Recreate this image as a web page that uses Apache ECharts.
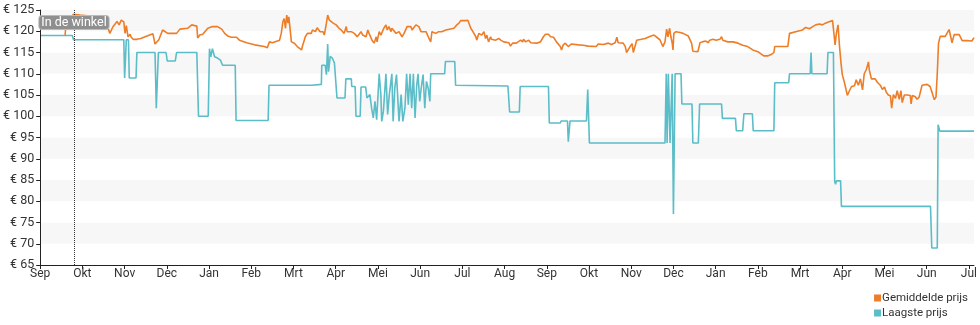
<!DOCTYPE html>
<html>
<head>
<meta charset="utf-8">
<title>Prijsverloop</title>
<script src="https://cdn.jsdelivr.net/npm/echarts@6/dist/echarts.min.js"></script>
<style>
  html, body { margin: 0; padding: 0; background: #fff; }
  #chart { width: 980px; height: 325px; }
</style>
</head>
<body>
<div id="chart"></div>
<script>
// Month labels along the x axis (position 0 = first September)
const monthLabels = ['Sep', 'Okt', 'Nov', 'Dec', 'Jan', 'Feb', 'Mrt', 'Apr', 'Mei', 'Jun', 'Jul',
                     'Aug', 'Sep', 'Okt', 'Nov', 'Dec', 'Jan', 'Feb', 'Mrt', 'Apr', 'Mei', 'Jun', 'Jul'];

// Price ticks in euro
const priceTicks = [65, 70, 75, 80, 85, 90, 95, 100, 105, 110, 115, 120, 125];

// Moment the product became available in shops (in months from the first September)
const inStoreMonth = 0.80;

// Average price: time (months) and price (euro)
const avgMonths = [
  0.59, 0.61, 0.71, 0.76, 0.78, 0.94, 1.18, 1.42, 1.53, 1.58, 1.65, 1.72, 1.82, 1.87, 1.92, 1.98,
  2.01, 2.04, 2.08, 2.13, 2.15, 2.20, 2.29, 2.38, 2.67, 2.72, 2.76, 2.81, 2.90, 3.02, 3.23, 3.31,
  3.49, 3.59, 3.71, 3.73, 3.78, 3.85, 3.97, 4.08, 4.20, 4.30, 4.37, 4.44, 4.53, 4.65, 4.72, 4.89,
  5.08, 5.31, 5.38, 5.43, 5.50, 5.67, 5.71, 5.75, 5.78, 5.81, 5.84, 5.87, 5.89, 5.93, 5.95, 6.02,
  6.09, 6.19, 6.21, 6.28, 6.33, 6.42, 6.45, 6.52, 6.56, 6.63, 6.70, 6.73, 6.78, 6.81, 6.85, 6.89,
  6.94, 7.01, 7.08, 7.13, 7.20, 7.25, 7.27, 7.37, 7.44, 7.51, 7.55, 7.60, 7.64, 7.67, 7.72, 7.76,
  7.79, 7.86, 7.91, 7.96, 7.98, 8.03, 8.07, 8.14, 8.19, 8.22, 8.26, 8.31, 8.33, 8.43, 8.50, 8.57,
  8.62, 8.69, 8.78, 8.81, 8.90, 8.97, 9.02, 9.14, 9.21, 9.25, 9.28, 9.37, 9.44, 9.51, 9.61, 9.80,
  9.87, 9.92, 9.96, 10.08, 10.13, 10.20, 10.25, 10.32, 10.34, 10.39, 10.46, 10.51, 10.55, 10.58, 10.62, 10.67,
  10.69, 10.79, 10.86, 10.91, 10.98, 11.10, 11.14, 11.19, 11.28, 11.38, 11.43, 11.45, 11.50, 11.57, 11.62, 11.76,
  11.85, 11.92, 11.97, 12.04, 12.09, 12.16, 12.23, 12.32, 12.35, 12.39, 12.44, 12.51, 12.58, 12.75, 12.87, 12.98,
  13.17, 13.22, 13.34, 13.46, 13.53, 13.57, 13.62, 13.66, 13.69, 13.81, 13.86, 13.89, 13.93, 13.98, 14.02, 14.05,
  14.09, 14.13, 14.16, 14.24, 14.33, 14.40, 14.47, 14.54, 14.68, 14.75, 14.80, 14.84, 14.87, 14.91, 14.94, 14.97,
  14.99, 15.01, 15.06, 15.16, 15.23, 15.35, 15.39, 15.43, 15.46, 15.58, 15.63, 15.68, 15.77, 15.82, 15.86, 15.94,
  16.01, 16.05, 16.10, 16.14, 16.17, 16.29, 16.41, 16.53, 16.64, 16.76, 16.88, 17.00, 17.14, 17.23, 17.33, 17.38,
  17.40, 17.71, 17.75, 17.94, 18.06, 18.13, 18.22, 18.30, 18.37, 18.41, 18.46, 18.53, 18.60, 18.67, 18.77, 18.80,
  18.83, 18.86, 18.90, 18.93, 18.97, 19.00, 19.05, 19.12, 19.17, 19.22, 19.29, 19.33, 19.38, 19.43, 19.48, 19.52,
  19.57, 19.62, 19.64, 19.69, 19.78, 19.83, 19.90, 19.95, 20.00, 20.04, 20.09, 20.14, 20.17, 20.21, 20.26, 20.30,
  20.35, 20.39, 20.42, 20.47, 20.54, 20.61, 20.63, 20.66, 20.73, 20.77, 20.82, 20.89, 21.01, 21.08, 21.13, 21.18,
  21.22, 21.25, 21.28, 21.32, 21.44, 21.48, 21.53, 21.55, 21.60, 21.65, 21.77, 21.84, 21.96, 22.07, 22.12
];
const avgPrices = [
  119.0, 121.9, 122.0, 121.5, 124.0, 123.8, 123.6, 123.5, 123.3, 121.5, 119.5, 121.0, 122.3, 121.5, 122.6, 122.2,
  119.5, 121.3, 118.7, 119.3, 118.7, 118.1, 118.1, 118.3, 119.4, 117.0, 116.8, 118.0, 120.3, 119.5, 119.5, 120.5,
  120.7, 121.5, 121.2, 118.4, 119.1, 119.3, 120.7, 121.1, 121.1, 120.5, 119.5, 118.9, 118.6, 118.6, 117.9, 117.3,
  116.8, 116.4, 116.1, 117.5, 117.3, 117.9, 119.5, 122.3, 123.0, 120.7, 123.8, 121.9, 123.4, 119.5, 117.5, 117.2,
  116.4, 115.6, 116.4, 118.7, 119.5, 119.5, 120.3, 119.9, 120.8, 119.9, 119.9, 119.1, 121.9, 123.8, 122.6, 122.3,
  121.9, 121.5, 120.7, 120.3, 119.5, 121.1, 119.9, 119.9, 119.5, 118.7, 119.1, 119.9, 119.1, 119.5, 118.7, 120.3,
  119.5, 117.9, 117.2, 118.7, 117.5, 119.9, 119.1, 120.7, 121.5, 120.3, 121.1, 119.9, 120.7, 119.5, 119.9, 118.7,
  119.5, 121.1, 121.1, 120.3, 121.5, 121.1, 119.9, 119.9, 118.3, 117.5, 119.9, 119.5, 119.9, 119.9, 120.3, 120.7,
  121.5, 121.9, 122.5, 122.5, 122.6, 120.7, 119.9, 118.7, 117.9, 119.5, 119.1, 119.9, 118.3, 119.1, 117.5, 118.7,
  118.1, 117.9, 118.3, 117.9, 117.5, 117.3, 116.5, 117.2, 117.2, 117.9, 117.5, 118.1, 117.5, 117.9, 117.3, 117.2,
  117.5, 118.7, 119.3, 119.3, 118.7, 118.6, 117.5, 116.4, 115.6, 116.8, 117.2, 116.4, 117.0, 116.8, 116.7, 116.5,
  116.4, 117.0, 116.9, 117.2, 116.9, 117.2, 117.3, 118.6, 117.3, 117.2, 116.4, 115.0, 115.2, 116.5, 117.1, 115.0,
  114.9, 117.9, 118.1, 118.1, 118.3, 118.6, 118.9, 119.1, 118.0, 116.4, 117.5, 120.5, 118.7, 120.7, 118.7, 117.3,
  115.6, 119.5, 119.9, 119.7, 119.5, 118.9, 118.7, 117.2, 115.3, 115.2, 117.3, 117.5, 117.7, 117.3, 117.9, 118.1,
  117.9, 118.3, 118.1, 118.7, 117.9, 117.5, 117.5, 117.2, 116.7, 116.4, 115.6, 115.2, 114.2, 114.2, 114.6, 115.0,
  116.4, 116.4, 119.5, 120.0, 120.3, 120.9, 120.6, 121.1, 121.5, 121.3, 121.7, 121.5, 121.9, 122.2, 122.5, 122.6,
  116.8, 119.5, 121.5, 117.0, 112.5, 109.8, 108.0, 104.9, 106.0, 107.0, 107.2, 108.6, 107.3, 108.8, 106.2, 110.0,
  111.0, 112.8, 110.9, 108.8, 108.8, 108.0, 107.3, 106.3, 106.9, 105.7, 105.0, 104.8, 101.9, 105.1, 104.2, 106.0,
  104.0, 106.0, 103.2, 105.0, 105.0, 104.9, 102.9, 104.9, 104.6, 104.0, 104.5, 107.3, 107.5, 107.0, 105.5, 103.9,
  104.5, 110.0, 117.2, 118.8, 118.8, 119.0, 120.4, 120.0, 117.3, 119.2, 119.2, 117.8, 117.8, 117.7, 118.5
];

// Lowest price: time (months) and price (euro)
const lowMonths = [
  0.02, 0.76, 0.79, 1.98, 2.00, 2.02, 2.04, 2.09, 2.11, 2.27, 2.29, 2.72, 2.75, 2.78, 2.80, 2.98,
  3.01, 3.20, 3.23, 3.71, 3.75, 3.98, 4.01, 4.04, 4.08, 4.13, 4.20, 4.27, 4.32, 4.62, 4.64, 5.40,
  5.42, 6.44, 6.46, 6.66, 6.67, 6.75, 6.78, 6.81, 6.83, 6.87, 6.92, 6.97, 7.03, 7.22, 7.24, 7.37,
  7.38, 7.46, 7.48, 7.58, 7.60, 7.71, 7.74, 7.81, 7.85, 7.89, 7.93, 7.97, 8.03, 8.07, 8.09, 8.13,
  8.19, 8.23, 8.27, 8.33, 8.36, 8.40, 8.44, 8.50, 8.55, 8.59, 8.64, 8.68, 8.72, 8.76, 8.80, 8.84,
  8.88, 8.92, 8.95, 8.99, 9.03, 9.07, 9.11, 9.15, 9.19, 9.23, 9.25, 9.58, 9.60, 9.82, 9.84, 11.08,
  11.12, 11.35, 11.37, 12.04, 12.06, 12.32, 12.34, 12.49, 12.51, 12.55, 12.94, 12.97, 13.01, 14.80,
  14.83, 14.85, 14.88, 14.92, 14.97, 15.00, 15.04, 15.18, 15.20, 15.44, 15.46, 15.59, 15.62, 16.14,
  16.16, 16.47, 16.49, 16.64, 16.67, 16.87, 16.89, 17.38, 17.40, 17.73, 17.75, 18.24, 18.26, 18.28,
  18.64, 18.66, 18.79, 18.82, 18.84, 18.86, 18.96, 18.98, 21.09, 21.12, 21.25, 21.27, 21.31, 22.12
];
const lowPrices = [
  119.0, 119.0, 118.0, 118.0, 109.0, 109.0, 118.0, 118.0, 109.0, 109.0, 115.0, 115.0, 101.9, 101.9, 115.0, 115.0,
  113.0, 113.0, 115.0, 115.0, 100.0, 100.0, 115.9, 114.0, 115.9, 114.0, 113.7, 113.2, 112.0, 112.0, 99.0, 99.0,
  107.3, 107.3, 107.5, 107.5, 112.0, 112.0, 109.8, 117.0, 110.5, 114.1, 113.7, 112.5, 104.3, 104.3, 108.8, 108.8,
  107.0, 107.0, 100.0, 100.0, 106.9, 106.9, 104.3, 105.1, 101.9, 99.6, 103.5, 99.2, 110.0, 105.1, 98.8, 101.2,
  110.0, 100.4, 105.1, 110.0, 98.8, 106.6, 109.8, 98.8, 105.1, 98.8, 101.9, 110.0, 102.7, 110.0, 101.9, 110.0,
  99.6, 107.4, 110.0, 103.5, 107.0, 109.8, 101.9, 108.2, 106.6, 103.5, 110.0, 110.0, 112.9, 112.9, 107.3, 107.1,
  101.0, 101.0, 107.0, 107.0, 98.4, 98.4, 98.9, 98.9, 94.0, 98.9, 98.9, 106.3, 93.7, 93.7,
  110.0, 93.7, 110.0, 93.7, 110.0, 77.0, 110.0, 110.0, 102.9, 102.9, 93.7, 93.7, 102.9, 102.9,
  99.5, 99.5, 96.6, 96.6, 100.6, 100.6, 96.6, 96.6, 107.9, 107.9, 110.0, 110.0, 115.0, 110.0,
  110.0, 115.0, 115.0, 84.7, 84.0, 84.8, 84.8, 78.8, 78.8, 69.0, 69.0, 98.0, 96.5, 96.5
];

const zip = (xs, ys) => xs.map((x, i) => [x, ys[i]]);
const monthTicks = monthLabels.map((_, i) => i);

const chart = echarts.init(document.getElementById('chart'), null, { renderer: 'canvas' });

const textColor = '#333';
const fontFamily = 'Roboto, "Noto Sans", sans-serif';

chart.setOption({
  animation: false,
  backgroundColor: '#ffffff',
  textStyle: { fontFamily: fontFamily },
  grid: { left: 40, right: 3, top: 10, bottom: 60, containLabel: false },
  legend: {
    orient: 'vertical',
    right: 12,
    top: 292,
    align: 'left',
    padding: 0,
    itemGap: 3,
    itemWidth: 7,
    itemHeight: 7,
    icon: 'rect',
    textStyle: { color: textColor, fontSize: 11.5, fontFamily: fontFamily, padding: [0, 0, 0, -4] },
    data: ['Gemiddelde prijs', 'Laagste prijs']
  },
  xAxis: {
    type: 'value',
    min: 0,
    max: 22.12,
    interval: 1,
    axisLine: { show: true, lineStyle: { color: '#222', width: 1 } },
    axisTick: { show: true, length: 4, customValues: monthTicks, lineStyle: { color: '#222' } },
    axisLabel: {
      customValues: monthTicks,
      color: textColor,
      fontSize: 12,
      margin: 3,
      formatter: (v) => monthLabels[Math.round(v)] || ''
    },
    splitLine: { show: false }
  },
  yAxis: {
    type: 'value',
    min: priceTicks[0],
    max: priceTicks[priceTicks.length - 1],
    interval: 5,
    axisLine: { show: true, lineStyle: { color: '#222', width: 1 } },
    axisTick: { show: true, length: 4, lineStyle: { color: '#222' } },
    axisLabel: {
      color: textColor,
      fontSize: 12.5,
      margin: 6,
      formatter: (v) => '€ ' + v
    },
    splitLine: { show: false },
    splitArea: { show: true, areaStyle: { color: ['#ffffff', '#f7f7f7'] } }
  },
  series: [
    {
      name: 'Gemiddelde prijs',
      type: 'line',
      data: zip(avgMonths, avgPrices),
      showSymbol: false,
      symbol: 'none',
      color: '#ee7d28',
      lineStyle: { width: 1.6, color: '#ee7d28' },
      z: 3
    },
    {
      name: 'Laagste prijs',
      type: 'line',
      data: zip(lowMonths, lowPrices),
      showSymbol: false,
      symbol: 'none',
      color: '#5bbdc7',
      lineStyle: { width: 1.6, color: '#5bbdc7' },
      z: 2,
      markLine: {
        silent: true,
        symbol: ['none', 'none'],
        lineStyle: { color: '#333', type: 'dotted', width: 1 },
        label: {
          show: true,
          position: 'end',
          formatter: 'In de winkel',
          color: '#fff',
          fontSize: 12.5,
          backgroundColor: '#8f8f8f',
          borderColor: '#bbbbbb',
          borderWidth: 1,
          borderRadius: 3,
          padding: [0, 2, 0, 2],
          offset: [0, 24]
        },
        data: [{ xAxis: inStoreMonth }]
      }
    }
  ]
});
</script>
</body>
</html>
